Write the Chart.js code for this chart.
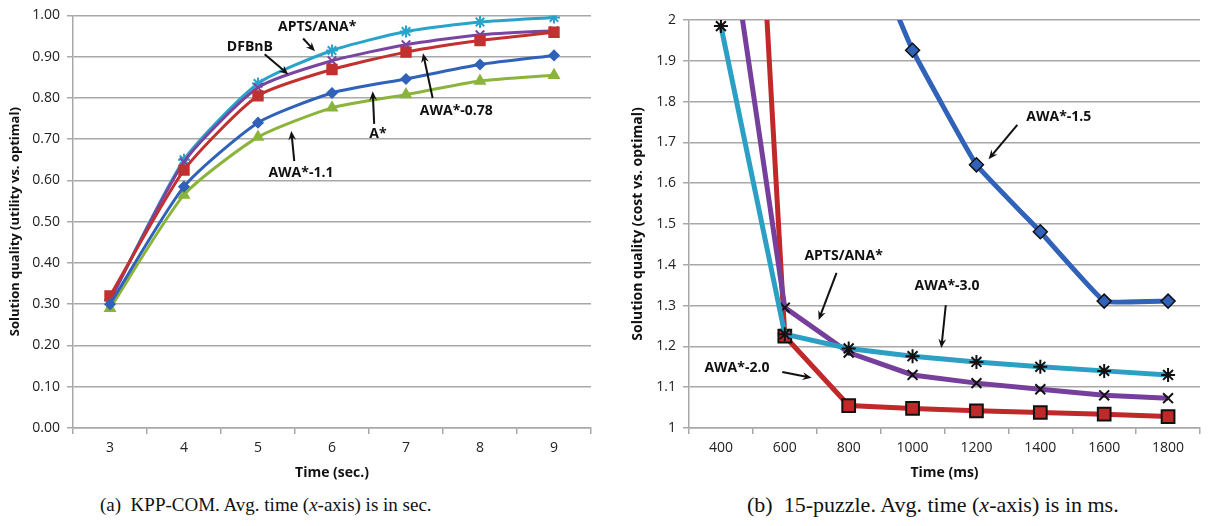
<!DOCTYPE html>
<html>
<head>
<meta charset="utf-8">
<script src="https://cdn.jsdelivr.net/npm/chart.js@4/dist/chart.umd.min.js"></script>
<style>
  body { margin: 0; background: #fff; width: 1211px; height: 526px; position: relative; overflow: hidden; }
  .box { position: absolute; top: 0; height: 485px; }
  .cap { position: absolute; font-family: "Liberation Serif", serif; color: #111; white-space: nowrap; line-height: 1; }
</style>
</head>
<body>
<div class="box" style="left:0;width:600px"><canvas id="kpp"></canvas></div>
<div class="box" style="left:600px;width:611px"><canvas id="puzzle"></canvas></div>
<div class="cap" style="left:100px;top:495px;font-size:19px">(a)&nbsp; KPP-COM. Avg. time (<i>x</i>-axis) is in sec.</div>
<div class="cap" style="left:747px;top:494px;font-size:22px">(b)&nbsp; 15-puzzle. Avg. time (<i>x</i>-axis) is in ms.</div>
<script>
// (a) KPP-COM
var kpp_time = ["3", "4", "5", "6", "7", "8", "9"];
var kpp_astar = [0.30, 0.585, 0.74, 0.812, 0.846, 0.881, 0.903];
var kpp_awa11 = [0.29, 0.565, 0.705, 0.776, 0.808, 0.841, 0.855];
var kpp_awa078 = [0.32, 0.625, 0.805, 0.869, 0.911, 0.939, 0.959];
var kpp_dfbnb = [0.31, 0.645, 0.825, 0.89, 0.929, 0.953, 0.963];
var kpp_apts = [0.31, 0.65, 0.835, 0.915, 0.961, 0.984, 0.995];

// (b) 15-puzzle
var puz_time = ["400", "600", "800", "1000", "1200", "1400", "1600", "1800"];
var puz_awa15 = [null, null, 2.3, 1.926, 1.645, 1.481, 1.311, 1.311];
var puz_awa20 = [4.0, 1.225, 1.055, 1.048, 1.042, 1.038, 1.034, 1.028];
var puz_apts = [2.36, 1.295, 1.185, 1.13, 1.11, 1.095, 1.08, 1.073];
var puz_awa30 = [1.985, 1.23, 1.195, 1.176, 1.162, 1.15, 1.14, 1.13];

// callouts: [text, textX, textY, arrowFromX, arrowFromY, arrowToX, arrowToY] in data units (x = category index)
var kpp_notes = [
  ["APTS/ANA*", 2.80, 0.973, 2.61, 0.944, 2.77, 0.913],
  ["DFBnB", 1.89, 0.923, 2.09, 0.906, 2.41, 0.857],
  ["AWA*-0.78", 4.68, 0.768, 4.36, 0.800, 4.23, 0.908],
  ["A*", 3.62, 0.713, 3.57, 0.737, 3.55, 0.816],
  ["AWA*-1.1", 2.58, 0.618, 2.49, 0.647, 2.45, 0.720]
];
var puz_notes = [
  ["AWA*-1.5", 5.29, 1.762, 4.64, 1.743, 4.19, 1.659],
  ["APTS/ANA*", 1.92, 1.422, 1.81, 1.380, 1.53, 1.265],
  ["AWA*-3.0", 3.54, 1.348, 3.52, 1.301, 3.45, 1.196],
  ["AWA*-2.0", 0.25, 1.147, 0.96, 1.137, 1.42, 1.123]
];

var grid_color = "#a8a8a8";
var tick_font = { family: "Open Sans", size: 14 };

function callouts(notes) {
  return {
    id: "callouts",
    afterDatasetsDraw: function (chart) {
      var ctx = chart.ctx;
      var xs = chart.scales.x, ys = chart.scales.y;
      ctx.save();
      ctx.fillStyle = "#111";
      ctx.strokeStyle = "#111";
      ctx.font = "bold 14px 'Open Sans'";
      ctx.textAlign = "center";
      ctx.textBaseline = "middle";
      notes.forEach(function (n) {
        ctx.fillText(n[0], xs.getPixelForValue(n[1]), ys.getPixelForValue(n[2]));
        var x1 = xs.getPixelForValue(n[3]), y1 = ys.getPixelForValue(n[4]);
        var x2 = xs.getPixelForValue(n[5]), y2 = ys.getPixelForValue(n[6]);
        var a = Math.atan2(y2 - y1, x2 - x1);
        ctx.lineWidth = 2;
        ctx.beginPath();
        ctx.moveTo(x1, y1);
        ctx.lineTo(x2 - 4 * Math.cos(a), y2 - 4 * Math.sin(a));
        ctx.stroke();
        ctx.beginPath();
        ctx.moveTo(x2, y2);
        ctx.lineTo(x2 - 10 * Math.cos(a - 0.4), y2 - 10 * Math.sin(a - 0.4));
        ctx.lineTo(x2 - 6 * Math.cos(a), y2 - 6 * Math.sin(a));
        ctx.lineTo(x2 - 10 * Math.cos(a + 0.4), y2 - 10 * Math.sin(a + 0.4));
        ctx.closePath();
        ctx.fill();
      });
      ctx.restore();
    }
  };
}

function line(label, data, color, style, radius, opts) {
  var d = {
    label: label,
    data: data,
    borderColor: color,
    backgroundColor: color,
    borderWidth: 3,
    pointStyle: style,
    pointRadius: radius,
    pointBorderColor: color,
    pointBackgroundColor: color,
    pointBorderWidth: 1.5,
    tension: 0.2
  };
  return Object.assign(d, opts || {});
}

function scales(labels, yMin, yMax, yFmt, xTitle, yTitle, yWidth, titleSize, titlePad) {
  return {
    x: {
      type: "category",
      labels: labels,
      offset: true,
      grid: { offset: true, drawOnChartArea: false, color: grid_color, lineWidth: 1.5, tickLength: 6 },
      border: { color: grid_color, width: 1.5 },
      ticks: { color: "#222", font: tick_font, padding: 6, maxRotation: 0 },
      title: { display: true, text: xTitle, color: "#111", font: { family: "Open Sans", size: 14, weight: "bold" }, padding: { top: 0 } },
      afterFit: function (s) { s.height = 57; }
    },
    y: {
      min: yMin,
      max: yMax,
      ticks: { stepSize: 0.1, color: "#222", font: tick_font, padding: 7, callback: yFmt },
      grid: { color: grid_color, lineWidth: 1.5, tickLength: 6 },
      border: { color: grid_color, width: 1.5 },
      title: { display: true, text: yTitle, color: "#111", font: { family: "Open Sans", size: titleSize, weight: "bold" }, padding: titlePad },
      afterFit: function (s) { s.width = yWidth; }
    }
  };
}

new Chart(document.getElementById("kpp"), {
  type: "line",
  data: {
    datasets: [
      line("A*", kpp_astar, "#2f62b8", "rectRot", 5),
      line("AWA*-1.1", kpp_awa11, "#8bb43a", "triangle", 6),
      line("AWA*-0.78", kpp_awa078, "#c0312f", "rect", 7),
      line("DFBnB", kpp_dfbnb, "#7a45a0", "crossRot", 6, { pointBorderWidth: 2 }),
      line("APTS/ANA*", kpp_apts, "#2aa3cb", "star", 6, { pointBorderWidth: 2 })
    ]
  },
  options: {
    responsive: true,
    maintainAspectRatio: false,
    animation: false,
    layout: { padding: { top: 14, right: 9, left: 0, bottom: 0 } },
    plugins: { legend: { display: false }, tooltip: { enabled: false } },
    scales: scales(kpp_time, 0, 1, function (v) { return v.toFixed(2); },
      "Time (sec.)", "Solution quality (utility vs. optimal)", 73, 13, { top: 7, bottom: 4 })
  },
  plugins: [callouts(kpp_notes)]
});

var rb = { tension: 0, borderWidth: 5, pointBorderColor: "#111" };
new Chart(document.getElementById("puzzle"), {
  type: "line",
  data: {
    datasets: [
      line("AWA*-1.5", puz_awa15, "#2f62b8", "rectRot", 7, Object.assign({}, rb, { tension: 0.08, pointBorderWidth: 1.5 })),
      line("AWA*-3.0", puz_awa30, "#2ba0c4", "star", 7, Object.assign({}, rb, { pointBorderWidth: 2 })),
      line("APTS/ANA*", puz_apts, "#763f9c", "crossRot", 7, Object.assign({}, rb, { pointBorderWidth: 2 })),
      line("AWA*-2.0", puz_awa20, "#c0282a", "rect", 9, Object.assign({}, rb, { pointBorderWidth: 2 }))
    ]
  },
  options: {
    responsive: true,
    maintainAspectRatio: false,
    animation: false,
    layout: { padding: { top: 20, right: 4, left: 0, bottom: 0 } },
    plugins: { legend: { display: false }, tooltip: { enabled: false } },
    scales: scales(puz_time, 1, 2, function (v) { return (v === 1 || v === 2) ? String(v) : v.toFixed(1); },
      "Time (ms)", "Solution quality (cost vs. optimal)", 89, 14, { top: 30, bottom: 4 })
  },
  plugins: [callouts(puz_notes)]
});
</script>
</body>
</html>
